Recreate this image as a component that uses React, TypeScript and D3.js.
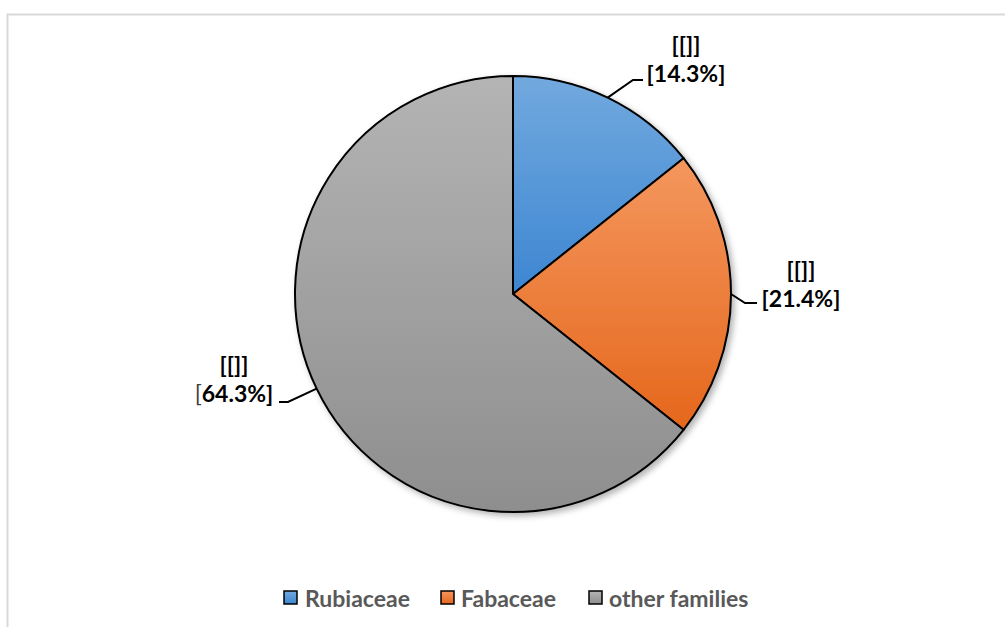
import React from "react";
import * as d3 from "d3";

const categories = ["Rubiaceae", "Fabaceae", "other families"];
const values = [14.3, 21.4, 64.3];
const labelTop = ["[[]]", "[[]]", "[[]]"];
const labelPct = ["[14.3%]", "[21.4%]", "[64.3%]"];
const topColors = ["#72a9de", "#f4975e", "#b4b4b4"];
const bottomColors = ["#3d86d2", "#e5671c", "#8e8e8e"];

const W = 1006;
const H = 627;
const cx = 513;
const cy = 294;
const R = 218;
const FONT = "Lato, 'Open Sans', sans-serif";

const labelPos = [
  { x: 686, y: 73 },
  { x: 801, y: 298 },
  { x: 234, y: 393 },
];

export default function App() {
  const pie = d3.pie<number>().sort(null).value((d) => d);
  const arcs = pie(values);
  const arc = d3.arc<d3.PieArcDatum<number>>().innerRadius(0).outerRadius(R);

  const leaders = arcs.map((a) => {
    const mid = (a.startAngle + a.endAngle) / 2;
    return { px: cx + Math.sin(mid) * R, py: cy - Math.cos(mid) * R };
  });

  const leaderPaths = [
    `M${leaders[0].px},${leaders[0].py} L633,80 L643,80`,
    `M${leaders[1].px},${leaders[1].py} L745,303 L757,303`,
    `M${leaders[2].px},${leaders[2].py} L288,402 L279,402`,
  ];

  const legendItems = [
    { sx: 284, tx: 305 },
    { sx: 441, tx: 461 },
    { sx: 589, tx: 609 },
  ];

  return (
    <svg width={W} height={H} style={{ position: "absolute", left: 0, top: 0, display: "block" }}>
      <defs>
        {categories.map((c, i) => (
          <linearGradient key={c} id={`g${i}`} x1="0" y1="0" x2="0" y2="1">
            <stop offset="0" stopColor={topColors[i]} />
            <stop offset="1" stopColor={bottomColors[i]} />
          </linearGradient>
        ))}
        <filter id="shadow" x="-20%" y="-20%" width="140%" height="140%">
          <feDropShadow dx="3" dy="3" stdDeviation="3" floodColor="#000" floodOpacity="0.3" />
        </filter>
      </defs>
      <rect x={0} y={0} width={W} height={H} fill="#fff" />
      <path d={`M7.5,${H} L7.5,14.5 L1005,14.5`} fill="none" stroke="#d9d9d9" strokeWidth={2} />

      <g transform={`translate(${cx},${cy})`} filter="url(#shadow)">
        {arcs.map((a, i) => (
          <path key={i} d={arc(a) || ""} fill={`url(#g${i})`} stroke="#000" strokeWidth={2} strokeLinejoin="round" />
        ))}
      </g>

      {leaderPaths.map((d, i) => (
        <path key={i} d={d} fill="none" stroke="#000" strokeWidth={2} />
      ))}

      {labelPos.map((p, i) => (
        <g key={i} fontFamily={FONT} fontWeight="bold" fontSize={23} fill="#000">
          <text x={p.x} y={p.y - 29} textAnchor="middle" dominantBaseline="central">
            {labelTop[i]}
          </text>
          <text x={p.x} y={p.y} textAnchor="middle" dominantBaseline="central">
            {i === 2 ? (
              <>
                <tspan fontWeight="normal" fill="#404040">{labelPct[i].slice(0, 1)}</tspan>
                {labelPct[i].slice(1)}
              </>
            ) : (
              labelPct[i]
            )}
          </text>
        </g>
      ))}

      {categories.map((c, i) => (
        <g key={c}>
          <rect x={legendItems[i].sx} y={591} width={13} height={13} fill={`url(#g${i})`} stroke="#000" strokeWidth={1.5} />
          <text x={legendItems[i].tx} y={598} dominantBaseline="central" fontFamily={FONT} fontWeight="bold" fontSize={23} fill="#595959">
            {c}
          </text>
        </g>
      ))}
    </svg>
  );
}
